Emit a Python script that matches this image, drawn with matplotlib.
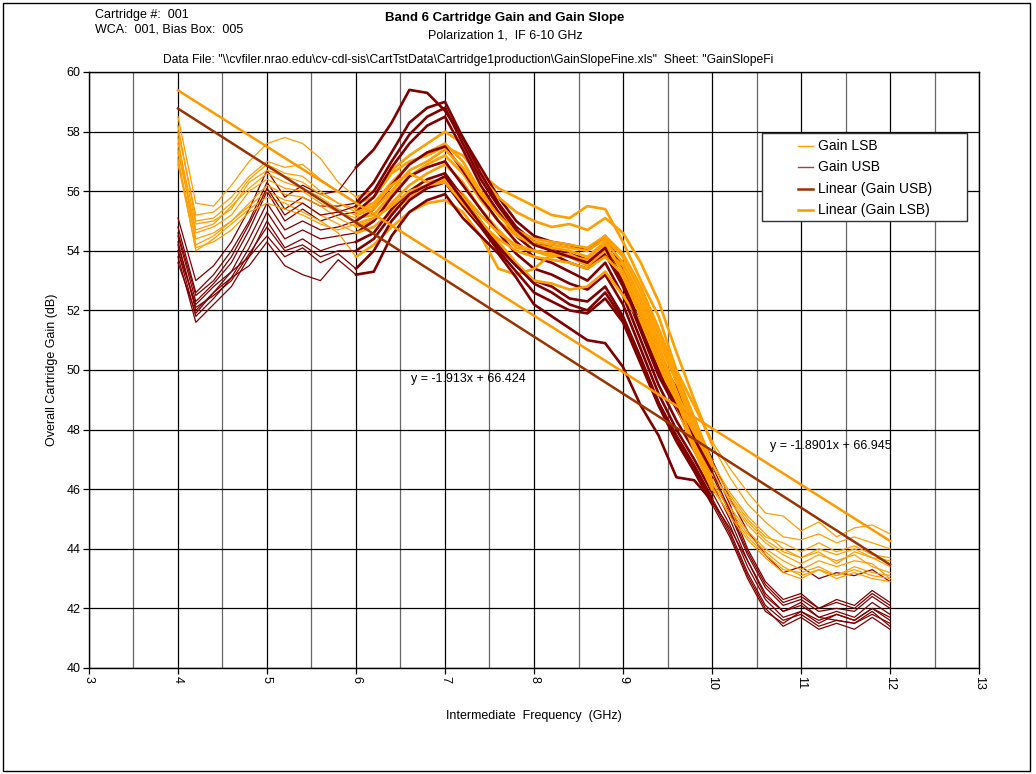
import matplotlib as mpl
mpl.use('Agg')
import matplotlib.pyplot as plt
from matplotlib.patches import Rectangle
from matplotlib.lines import Line2D
import numpy as np

plt.rcParams['font.family'] = ['Liberation Sans', 'DejaVu Sans']

# IF frequency samples (GHz)
freq_ghz = [4.0, 4.2, 4.4, 4.6, 4.8, 5.0, 5.2, 5.4, 5.6, 5.8,
            6.0, 6.2, 6.4, 6.6, 6.8, 7.0, 7.2, 7.4, 7.6, 7.8,
            8.0, 8.2, 8.4, 8.6, 8.8, 9.0, 9.2, 9.4, 9.6, 9.8,
            10.0, 10.2, 10.4, 10.6, 10.8, 11.0, 11.2, 11.4, 11.6, 11.8,
            12.0]

# Gain LSB curves (dB), one per LO setting
gain_lsb_1 = [58.5, 55.6, 55.5, 56.2, 57.0, 57.6, 57.8, 57.6, 57.1, 56.3,
              55.8, 56.0, 56.7, 57.2, 57.6, 58.0, 57.6, 56.6, 56.1, 55.8,
              55.5, 55.2, 55.1, 55.5, 55.4, 54.3, 53.0, 51.8, 50.0, 48.8,
              47.6, 46.7, 45.9, 45.2, 45.1, 44.6, 44.9, 44.4, 44.7, 44.8,
              44.5]
gain_lsb_2 = [58.0, 55.2, 55.3, 55.8, 56.5, 57.0, 56.8, 56.9, 56.4, 56.0,
              55.6, 55.8, 56.6, 57.0, 57.2, 57.5, 57.2, 56.5, 55.8, 55.3,
              55.0, 54.8, 54.9, 54.7, 55.1, 54.6, 53.6, 52.3, 50.6, 49.0,
              47.5, 46.4, 45.5, 44.9, 44.4, 44.3, 44.5, 44.2, 44.4, 44.2,
              44.0]
gain_lsb_3 = [57.6, 54.9, 55.0, 55.4, 56.3, 56.7, 56.5, 56.3, 55.9, 55.6,
              55.4, 55.6, 56.3, 56.9, 57.3, 57.6, 57.0, 56.0, 55.3, 54.7,
              54.4, 54.3, 54.2, 54.1, 54.5, 53.9, 52.8, 51.4, 49.9, 48.4,
              46.9, 45.9, 45.1, 44.5, 44.0, 43.7, 44.0, 43.8, 44.0, 43.7,
              43.6]
gain_lsb_4 = [57.3, 54.6, 54.8, 55.2, 56.0, 56.4, 56.1, 56.0, 55.6, 55.3,
              55.1, 55.2, 55.9, 56.5, 56.9, 57.2, 56.6, 55.7, 55.0, 54.5,
              54.2, 54.1, 54.0, 53.8, 54.3, 53.6, 52.4, 51.0, 49.6, 48.0,
              46.6, 45.6, 44.8, 44.2, 43.8, 43.5, 43.8, 43.6, 43.8, 43.4,
              43.2]
gain_lsb_5 = [57.0, 54.4, 54.6, 55.0, 55.6, 56.2, 55.9, 55.8, 55.5, 55.1,
              54.8, 55.0, 55.6, 56.2, 56.6, 56.9, 56.3, 55.4, 54.7, 54.1,
              54.0, 53.9, 53.8, 53.7, 54.2, 53.3, 52.0, 50.6, 49.2, 47.6,
              46.3, 45.4, 44.6, 44.0, 43.6, 43.3, 43.6, 43.4, 43.6, 43.5,
              43.0]
gain_lsb_6 = [57.8, 54.2, 54.5, 55.0, 55.5, 56.0, 55.7, 55.6, 55.2, 54.9,
              54.6, 54.8, 55.3, 55.8, 56.1, 56.4, 55.9, 55.2, 54.6, 54.2,
              54.0, 53.8, 53.9, 53.6, 54.0, 53.5, 52.2, 50.8, 49.3, 47.8,
              46.5, 45.7, 44.9, 44.3, 43.9, 43.7, 43.9, 43.5, 43.9, 43.7,
              43.4]
gain_lsb_7 = [57.1, 54.0, 54.4, 54.9, 55.4, 55.8, 55.6, 55.3, 55.0, 54.6,
              53.8, 54.2, 54.8, 55.3, 55.6, 55.7, 55.3, 54.5, 53.4, 53.2,
              53.4, 53.9, 53.8, 53.5, 54.0, 53.1, 51.8, 50.4, 48.9, 47.4,
              46.2, 45.3, 44.5, 43.9, 43.4, 43.1, 43.3, 43.0, 43.2, 43.0,
              42.9]
gain_lsb_8 = [58.2, 55.0, 55.1, 55.6, 56.4, 56.9, 56.6, 56.5, 56.0, 55.6,
              55.3, 55.5, 56.2, 56.6, 56.3, 56.4, 55.8, 55.0, 54.3, 53.6,
              53.0, 52.9, 52.7, 52.8, 53.3, 52.5, 51.6, 50.2, 48.8, 47.3,
              46.0, 45.2, 44.4, 43.8, 43.3, 43.2, 43.4, 43.1, 43.3, 43.1,
              43.0]
gain_lsb_9 = [57.4, 54.7, 54.9, 55.5, 56.1, 56.6, 56.3, 56.1, 55.8, 55.4,
              55.2, 55.4, 56.0, 56.7, 57.0, 57.4, 56.8, 55.9, 55.2, 54.6,
              54.3, 54.2, 54.1, 54.0, 54.4, 53.8, 52.6, 51.2, 49.7, 48.2,
              46.8, 45.8, 45.0, 44.4, 44.2, 43.9, 44.2, 43.9, 44.1, 43.8,
              43.7]
gain_lsb_10 = [56.9, 54.1, 54.3, 54.7, 55.3, 55.6, 55.4, 55.2, 54.9, 54.7,
               54.9, 55.1, 55.5, 56.0, 56.2, 56.3, 55.6, 54.9, 54.4, 54.0,
               53.8, 53.7, 53.6, 53.4, 53.8, 53.2, 52.0, 50.7, 49.0, 47.5,
               46.1, 45.1, 44.3, 43.7, 43.2, 43.0, 43.3, 43.1, 43.4, 43.2,
               43.1]

# Gain USB curves (dB)
gain_usb_1 = [55.1, 53.0, 53.5, 54.3, 55.4, 56.7, 55.8, 56.2, 55.9, 56.0,
              56.8, 57.4, 58.3, 59.4, 59.3, 58.7, 57.8, 56.8, 55.8, 55.0,
              54.5, 54.3, 54.2, 54.0, 54.5, 53.4, 51.8, 50.4, 49.4, 48.2,
              47.0, 45.7, 44.6, 43.8, 43.2, 43.4, 43.0, 43.2, 43.1, 43.3,
              42.9]
gain_usb_2 = [54.8, 52.6, 53.2, 54.0, 55.0, 56.3, 55.4, 55.8, 55.5, 55.5,
              55.6, 56.3, 57.3, 58.3, 58.8, 59.0, 57.8, 56.6, 55.6, 54.8,
              54.3, 54.1, 53.9, 53.7, 54.2, 53.0, 51.5, 50.0, 49.0, 47.9,
              46.8, 45.5, 44.0, 42.9, 42.3, 42.5, 42.0, 42.3, 42.1, 42.6,
              42.2]
gain_usb_3 = [54.5, 52.3, 52.9, 53.6, 54.7, 56.0, 55.0, 55.4, 55.0, 55.2,
              55.3, 55.8, 56.8, 57.6, 58.2, 58.5, 57.4, 56.2, 55.3, 54.5,
              54.0, 53.9, 53.6, 53.4, 53.9, 52.8, 51.3, 49.8, 48.7, 47.6,
              46.5, 45.2, 43.8, 42.7, 42.1, 42.3, 41.9, 42.0, 41.9, 42.4,
              42.0]
gain_usb_4 = [54.3, 52.0, 52.6, 53.3, 54.4, 55.6, 54.7, 55.0, 54.7, 54.8,
              55.0, 55.4, 56.2, 56.9, 57.3, 57.5, 56.7, 55.8, 55.0, 54.3,
              53.8, 53.6, 53.3, 53.0, 53.6, 52.5, 51.0, 49.5, 48.3, 47.3,
              46.2, 45.0, 43.6, 42.5, 41.9, 42.1, 41.7, 41.9, 41.7, 42.2,
              41.8]
gain_usb_5 = [54.0, 51.8, 52.4, 53.1, 54.1, 55.3, 54.4, 54.7, 54.4, 54.5,
              54.6, 55.0, 55.8, 56.5, 56.8, 57.0, 56.2, 55.4, 54.6, 53.9,
              53.4, 53.2, 52.9, 52.7, 53.2, 52.2, 50.7, 49.2, 48.0, 47.0,
              45.9, 44.8, 43.4, 42.3, 41.7, 41.9, 41.5, 41.8, 41.6, 42.0,
              41.7]
gain_usb_6 = [53.8, 51.6, 52.2, 52.8, 53.8, 55.0, 54.1, 54.4, 54.0, 54.2,
              54.3, 54.6, 55.4, 56.0, 56.4, 56.6, 55.8, 55.0, 54.2, 53.5,
              53.0, 52.8, 52.4, 52.3, 52.8, 51.8, 50.4, 48.9, 47.8, 46.8,
              45.7, 44.6, 43.2, 42.1, 41.6, 41.8, 41.4, 41.6, 41.5, 41.8,
              41.5]
gain_usb_7 = [54.0, 52.2, 52.8, 53.3, 53.8, 54.5, 53.8, 54.1, 53.6, 53.9,
              53.4, 54.0, 55.0, 55.7, 56.1, 56.3, 55.5, 54.8, 54.0, 53.3,
              52.6, 52.3, 52.0, 51.9, 52.4, 51.6, 50.2, 48.8, 47.6, 46.6,
              45.5, 44.4, 43.0, 41.9, 41.5, 41.9, 41.6, 41.8, 41.6, 42.0,
              41.6]
gain_usb_8 = [53.6, 51.9, 52.6, 53.1, 53.5, 54.3, 53.5, 53.2, 53.0, 53.7,
              53.2, 53.3, 54.5, 55.3, 55.7, 55.9, 55.1, 54.5, 53.9, 53.1,
              52.2, 51.8, 51.4, 51.0, 50.9, 50.1, 48.8, 47.8, 46.4, 46.3,
              45.6, 44.7, 43.6, 42.4, 41.9, 42.2, 41.7, 41.6, 41.5, 41.9,
              41.4]
gain_usb_9 = [54.6, 52.5, 53.0, 53.8, 54.9, 56.1, 55.2, 55.6, 55.2, 55.3,
              55.5, 56.0, 57.0, 57.9, 58.5, 58.8, 57.6, 56.4, 55.5, 54.7,
              54.2, 54.0, 53.8, 53.6, 54.1, 52.9, 51.4, 49.9, 48.8, 47.7,
              46.6, 45.3, 43.9, 42.8, 42.2, 42.4, 42.0, 42.2, 42.0, 42.5,
              42.1]
gain_usb_10 = [54.2, 52.1, 52.5, 53.0, 53.9, 54.8, 54.0, 54.2, 53.8, 54.0,
               54.0, 54.4, 55.2, 55.9, 56.2, 56.5, 55.7, 54.9, 54.1, 53.5,
               52.9, 52.6, 52.2, 52.0, 52.6, 51.7, 50.3, 48.9, 47.7, 46.7,
               45.6, 44.5, 43.1, 42.0, 41.4, 41.7, 41.3, 41.5, 41.3, 41.7,
               41.3]

gain_lsb = [gain_lsb_1, gain_lsb_2, gain_lsb_3, gain_lsb_4, gain_lsb_5,
            gain_lsb_6, gain_lsb_7, gain_lsb_8, gain_lsb_9, gain_lsb_10]
gain_usb = [gain_usb_1, gain_usb_2, gain_usb_3, gain_usb_4, gain_usb_5,
            gain_usb_6, gain_usb_7, gain_usb_8, gain_usb_9, gain_usb_10]

# Excel linear trendlines (slope, intercept)
fit_usb = (-1.913, 66.424)
fit_lsb = (-1.8901, 66.945)
fit_range = [4.0, 12.0]

legend_labels = ['Gain LSB', 'Gain USB', 'Linear (Gain USB)',
                 'Linear (Gain LSB)']

LSB_COLOR = '#FF9F00'
USB_COLOR = '#800000'
FIT_USB_COLOR = '#993300'
FIT_LSB_COLOR = '#FF9900'

W, H = 1036, 774


def fx(px):
    return px / W


def fy(py):
    return 1 - py / H


fig = plt.figure(figsize=(W / 100, H / 100), dpi=100)
ax = fig.add_axes([fx(89), fy(668), fx(979) - fx(89), fy(72) - fy(668)])

freq = np.array(freq_ghz)
band = (freq >= 6.0) & (freq <= 10.0)
for lsb, usb in zip(gain_lsb, gain_usb):
    lsb = np.array(lsb)
    usb = np.array(usb)
    ax.plot(freq, lsb, color=LSB_COLOR, lw=0.9, zorder=3)
    ax.plot(freq[band], lsb[band], color=LSB_COLOR, lw=1.9, zorder=3)
    ax.plot(freq, usb, color=USB_COLOR, lw=0.9, zorder=3)
    ax.plot(freq[band], usb[band], color=USB_COLOR, lw=1.9, zorder=3)

fit_x = np.array(fit_range)
ax.plot(fit_x, fit_usb[0] * fit_x + fit_usb[1], color=FIT_USB_COLOR,
        lw=1.8, zorder=4)
ax.plot(fit_x, fit_lsb[0] * fit_x + fit_lsb[1], color=FIT_LSB_COLOR,
        lw=1.8, zorder=4)

ax.text(6.62, 49.6, 'y = -1.913x + 66.424', fontsize=9, zorder=5)
ax.text(10.65, 47.35, 'y = -1.8901x + 66.945', fontsize=9, zorder=5)

# Axes, grid, ticks.
ax.set_xlim(3, 13)
ax.set_ylim(40, 60)
ax.set_xticks(range(3, 14))
ax.set_xticks(np.arange(3.5, 13, 1.0), minor=True)
ax.set_yticks(range(40, 61, 2))
ax.grid(which='major', color='black', lw=0.9, zorder=1)
ax.grid(which='minor', axis='x', color='#666666', lw=0.9, zorder=1)
ax.tick_params(which='major', direction='out', length=4, width=0.9,
               labelsize=9, pad=2)
ax.tick_params(which='minor', length=0)
for l in ax.xaxis.get_ticklabels():
    l.set_rotation(-90)
for s in ax.spines.values():
    s.set_color('black')
    s.set_linewidth(1.0)
ax.set_xlabel('Intermediate  Frequency  (GHz)', fontsize=9, labelpad=14)
ax.set_ylabel('Overall Cartridge Gain (dB)', fontsize=9, labelpad=6)

# Legend box drawn like the Excel one.
fig.patches.append(Rectangle((fx(762), fy(221)), fx(967) - fx(762),
                             fy(133) - fy(221), transform=fig.transFigure,
                             facecolor='white', edgecolor='#333333', lw=1.0,
                             zorder=6))
leg_styles = [(LSB_COLOR, 1.0), ('#A04040', 1.0), (FIT_USB_COLOR, 1.8),
              (FIT_LSB_COLOR, 1.8)]
leg_rows = [146, 167, 189, 210]
for (c, w), row, lab in zip(leg_styles, leg_rows, legend_labels):
    fig.add_artist(Line2D([fx(798), fx(813)], [fy(row), fy(row)], color=c,
                          lw=w, transform=fig.transFigure, zorder=7))
    fig.text(fx(818), fy(row), lab, fontsize=10, va='center', zorder=7)

# Header texts.
fig.text(fx(95), fy(15), 'Cartridge #:  001', fontsize=9, va='center')
fig.text(fx(95), fy(30), 'WCA:  001, Bias Box:  005', fontsize=9, va='center')
fig.text(fx(505), fy(18), 'Band 6 Cartridge Gain and Gain Slope', fontsize=9.5,
         weight='bold', ha='center', va='center')
fig.text(fx(505), fy(35), 'Polarization 1,  IF 6-10 GHz', fontsize=9,
         ha='center', va='center')
fig.text(fx(163), fy(60),
         'Data File: "\\\\cvfiler.nrao.edu\\cv-cdl-sis\\CartTstData\\'
         'Cartridge1production\\GainSlopeFine.xls"  Sheet: "GainSlopeFi',
         fontsize=8.7, va='center')

# Outer chart border.
fig.patches.append(Rectangle((fx(3), fy(771)), fx(1030) - fx(3), fy(3) - fy(771),
                             transform=fig.transFigure, fill=False,
                             edgecolor='black', lw=1.0))

fig.savefig('out.png', dpi=100)
